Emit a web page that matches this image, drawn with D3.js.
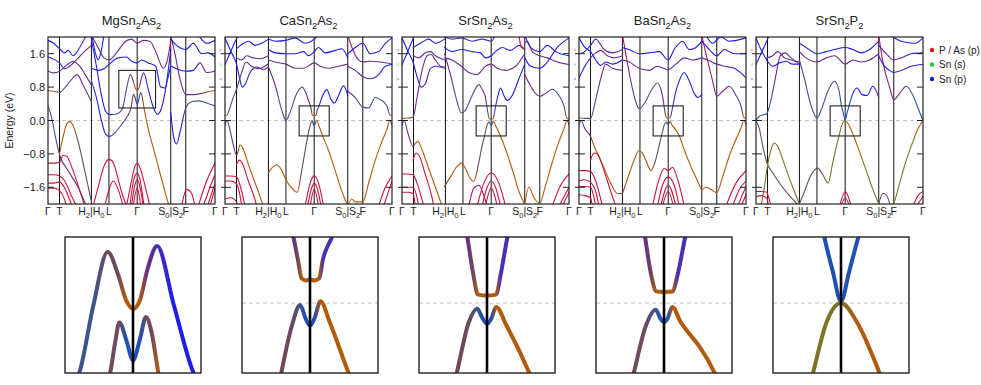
<!DOCTYPE html>
<html>
<head>
  <meta charset="utf-8">
  <title>Band structures</title>
  <script src="https://cdn.jsdelivr.net/npm/d3@7"></script>
  <style>
    body { margin: 0; background: #fff; }
    text { font-family: "Liberation Sans", Arial, sans-serif; fill: #222; }
  </style>
</head>
<body>
  <svg id="chart" width="981" height="385"></svg>

  <script>
    // --- data ---------------------------------------------------------
    var titles = ['MgSn_2As_2', 'CaSn_2As_2', 'SrSn_2As_2', 'BaSn_2As_2', 'SrSn_2P_2'];

    // k path positions (fraction of path) and their labels
    var kTicks = [0, 0.069, 0.26, 0.365, 0.534, 0.735, 0.825, 1];
    var kLabels = ['Γ', 'T', 'H_2|H_0', 'L', 'Γ', 'S_0|S_2', 'F', 'Γ'];
    var eTicks = [-1.6, -0.8, 0, 0.8, 1.6];

    // legend of projections
    var legendNames = ['P / As (p)', 'Sn (s)', 'Sn (p)'];

    // zoom windows around Γ: half width in k, energy range
    var zoomHalfK = [0.11, 0.09, 0.09, 0.09, 0.09];
    var zoomE = [[0.3, 1.2], [-0.37, 0.35], [-0.37, 0.35], [-0.37, 0.35], [-0.37, 0.35]];

    // band points: [k, energy (eV), character code]
    var bandsMg = [
      [[0,1.92,'b'],[0.035,1.85,'b'],[0.069,1.72,'b'],[0.1,1.62,'b'],[0.12,1.68,'b'],[0.15,1.55,'b'],[0.19,1.75,'v'],[0.23,2.05,'v']],
      [[0,1.52,'b'],[0.069,1.38,'b'],[0.1,1.24,'v'],[0.13,1.3,'v'],[0.17,1.45,'p'],[0.21,1.62,'p'],[0.26,1.8,'m']],
      [[0,1.18,'p'],[0.035,1.14,'p'],[0.069,1.18,'p'],[0.11,1.32,'p'],[0.15,1.42,'p'],[0.19,1.3,'p'],[0.23,1.05,'p'],[0.26,0.85,'p']],
      [[0,0.72,'o'],[0.035,0.7,'o'],[0.069,0.67,'n'],[0.1,0.78,'s'],[0.14,0.98,'p'],[0.175,1.1,'p'],[0.21,0.85,'p'],[0.26,0.45,'s']],
      [[0,0.35,'s'],[0.02,0.1,'s'],[0.045,-0.4,'s'],[0.069,-0.82,'p'],[0.12,-1.2,'p'],[0.18,-1.6,'p'],[0.23,-2.05,'p']],
      [[0.069,-0.8,'o'],[0.09,-0.4,'o'],[0.11,-0.1,'o'],[0.13,-0.02,'o'],[0.15,-0.12,'o'],[0.18,-0.5,'n'],[0.22,-1.2,'n'],[0.26,-1.95,'n']],
      [[0,-1.02,'r'],[0.035,-1.02,'r'],[0.069,-1.0,'r'],[0.09,-0.84,'r'],[0.11,-0.85,'r'],[0.15,-1.2,'r'],[0.2,-1.8,'r'],[0.22,-2.05,'r']],
      [[0,-1.3,'r'],[0.035,-1.3,'r'],[0.069,-1.33,'r'],[0.1,-1.45,'r'],[0.14,-1.8,'r'],[0.17,-2.05,'r']],
      [[0,-1.5,'r'],[0.035,-1.5,'r'],[0.069,-1.47,'r'],[0.1,-1.62,'r'],[0.13,-1.9,'r'],[0.145,-2.05,'r']],
      [[0,-1.62,'r'],[0.04,-1.62,'r'],[0.069,-1.68,'r'],[0.1,-1.9,'r'],[0.11,-2.05,'r']],
      [[0.26,1.95,'b'],[0.29,1.3,'b'],[0.32,0.6,'b'],[0.345,0.22,'b'],[0.367,0.14,'b'],[0.405,0.15,'s'],[0.43,0.2,'s'],[0.447,0.3,'s'],[0.47,0.75,'s'],[0.493,1.1,'n'],[0.51,0.95,'n'],[0.523,0.78,'o'],[0.534,0.724,'o'],[0.545,0.78,'o'],[0.557,0.98,'p'],[0.573,1.14,'v'],[0.6,0.75,'b'],[0.632,0.3,'b'],[0.655,0.15,'b'],[0.68,0.3,'b'],[0.71,0.9,'b'],[0.735,1.7,'b']],
      [[0.26,0.95,'s'],[0.29,0.55,'b'],[0.32,0.0,'b'],[0.345,-0.33,'b'],[0.37,-0.38,'b'],[0.4,-0.3,'s'],[0.44,-0.1,'s'],[0.475,0.1,'n'],[0.497,0.3,'n'],[0.505,0.5,'n'],[0.512,0.635,'n'],[0.523,0.52,'c'],[0.534,0.384,'c'],[0.545,0.52,'c'],[0.555,0.67,'n'],[0.565,0.55,'n'],[0.575,0.3,'o'],[0.6,-0.2,'o'],[0.63,-0.65,'o'],[0.67,-1.25,'o'],[0.7,-1.7,'o'],[0.725,-2.05,'o']],
      [[0.26,2.05,'m'],[0.3,1.75,'p'],[0.335,1.5,'p'],[0.367,1.45,'p'],[0.41,1.62,'p'],[0.46,1.88,'p'],[0.5,1.95,'p'],[0.534,1.85,'p'],[0.57,1.92,'p'],[0.61,1.9,'p'],[0.65,1.6,'p'],[0.69,1.25,'p'],[0.715,1.45,'m'],[0.735,1.9,'m']],
      [[0.26,1.25,'b'],[0.3,1.2,'b'],[0.34,1.25,'b'],[0.367,1.35,'b'],[0.42,1.5,'b'],[0.47,1.52,'b'],[0.5,1.42,'b'],[0.534,1.38,'b'],[0.56,1.45,'b'],[0.6,1.38,'b'],[0.645,1.3,'b'],[0.675,0.8,'b'],[0.7,0.78,'b'],[0.72,1.05,'b'],[0.735,1.3,'b']],
      [[0.265,2.0,'b'],[0.285,1.6,'b'],[0.3,1.45,'b'],[0.315,1.6,'b'],[0.335,2.05,'b']],
      [[0.27,-2.05,'r'],[0.3,-1.6,'r'],[0.34,-1.05,'r'],[0.365,-0.93,'r'],[0.385,-0.97,'r'],[0.41,-1.25,'r'],[0.44,-1.7,'r'],[0.47,-2.05,'r']],
      [[0.34,-2.05,'r'],[0.37,-1.6,'r'],[0.39,-1.45,'r'],[0.42,-1.65,'r'],[0.45,-2.05,'r']],
      [[0.47,-2.05,'r'],[0.5,-1.45,'r'],[0.52,-1.1,'r'],[0.534,-1.02,'r'],[0.55,-1.12,'r'],[0.58,-1.55,'r'],[0.61,-2.05,'r']],
      [[0.49,-2.05,'r'],[0.515,-1.4,'r'],[0.534,-1.26,'r'],[0.55,-1.4,'r'],[0.575,-2.05,'r']],
      [[0.5,-2.05,'r'],[0.52,-1.55,'r'],[0.534,-1.42,'r'],[0.548,-1.55,'r'],[0.57,-2.05,'r']],
      [[0.51,-2.05,'r'],[0.534,-1.62,'r'],[0.555,-2.05,'r']],
      [[0.735,0.2,'b'],[0.755,-0.45,'b'],[0.77,-0.56,'b'],[0.795,-0.2,'b'],[0.825,0.3,'s'],[0.86,0.45,'s'],[0.9,0.47,'s'],[0.95,0.42,'s'],[1,0.35,'s']],
      [[0.735,2.05,'m'],[0.76,1.6,'p'],[0.79,1.0,'p'],[0.825,0.62,'p'],[0.87,0.62,'p'],[0.93,0.66,'n'],[0.97,0.7,'o'],[1,0.72,'o']],
      [[0.74,1.3,'b'],[0.78,1.22,'b'],[0.825,1.18,'b'],[0.87,1.2,'b'],[0.91,1.38,'p'],[0.95,1.15,'p'],[1,1.18,'p']],
      [[0.735,1.95,'b'],[0.77,1.8,'b'],[0.825,1.7,'b'],[0.87,1.85,'b'],[0.92,1.6,'b'],[0.96,1.62,'b'],[1,1.52,'b']],
      [[0.9,2.05,'b'],[0.95,1.85,'b'],[1,1.92,'b']],
      [[0.8,-2.05,'r'],[0.83,-1.65,'r'],[0.86,-1.75,'r'],[0.88,-2.05,'r']],
      [[0.9,-2.05,'r'],[0.95,-1.45,'r'],[1,-1.02,'r']],
      [[0.93,-2.05,'r'],[0.97,-1.6,'r'],[1,-1.3,'r']],
      [[0.955,-2.05,'r'],[1,-1.5,'r']],
      [[0.97,-2.05,'r'],[1,-1.62,'r']]
    ];

    var bandsCa = [
      [[0,1.98,'b'],[0.035,1.66,'b'],[0.069,1.35,'b'],[0.088,1.0,'b'],[0.103,0.8,'b'],[0.12,0.86,'b'],[0.15,1.15,'v'],[0.19,1.28,'v'],[0.23,1.22,'v'],[0.26,1.28,'v']],
      [[0,1.34,'b'],[0.035,1.66,'b'],[0.069,1.96,'b'],[0.08,2.05,'b']],
      [[0,0.125,'o'],[0.012,0.13,'o'],[0.025,0.25,'s'],[0.045,0.5,'s'],[0.069,0.75,'s'],[0.1,1.15,'p'],[0.125,1.4,'p'],[0.16,1.3,'p'],[0.2,1.24,'p'],[0.26,1.36,'p']],
      [[0.069,1.5,'p'],[0.1,1.45,'p'],[0.13,1.55,'p'],[0.17,1.5,'p'],[0.21,1.48,'p'],[0.26,1.55,'p']],
      [[0.069,1.72,'b'],[0.1,1.82,'b'],[0.14,1.9,'b'],[0.18,1.8,'b'],[0.22,1.85,'b'],[0.26,1.95,'b']],
      [[0,-0.12,'c'],[0.013,0.0,'s'],[0.025,-0.15,'s'],[0.045,-0.5,'p'],[0.069,-0.83,'p'],[0.078,-0.75,'n'],[0.09,-0.58,'o'],[0.105,-0.65,'o'],[0.14,-1.05,'o'],[0.19,-1.6,'o'],[0.23,-2.05,'o']],
      [[0.069,-1.05,'r'],[0.085,-0.95,'r'],[0.1,-1.0,'r'],[0.14,-1.45,'r'],[0.18,-1.9,'r'],[0.19,-2.05,'r']],
      [[0,-1.33,'r'],[0.035,-1.33,'r'],[0.069,-1.35,'r'],[0.09,-1.55,'r'],[0.12,-2.05,'r']],
      [[0,-1.45,'r'],[0.035,-1.45,'r'],[0.069,-1.52,'r'],[0.09,-1.8,'r'],[0.1,-2.05,'r']],
      [[0,-1.88,'r'],[0.035,-1.85,'r'],[0.069,-1.95,'r'],[0.08,-2.05,'r']],
      [[0.26,1.28,'p'],[0.3,0.85,'p'],[0.34,0.25,'s'],[0.365,0.0,'s'],[0.39,0.2,'s'],[0.43,0.65,'s'],[0.463,0.8,'n'],[0.485,0.65,'p'],[0.5,0.48,'p'],[0.512,0.35,'p'],[0.518,0.23,'n'],[0.523,0.13,'o'],[0.529,0.12,'o'],[0.534,0.125,'o'],[0.54,0.12,'o'],[0.546,0.13,'o'],[0.551,0.23,'v'],[0.563,0.35,'v'],[0.58,0.55,'b'],[0.61,0.74,'b'],[0.635,0.5,'b'],[0.655,0.42,'b'],[0.68,0.6,'b'],[0.71,0.83,'b'],[0.735,0.6,'b']],
      [[0.26,-1.25,'o'],[0.29,-1.1,'o'],[0.31,-1.06,'o'],[0.34,-1.2,'o'],[0.365,-1.42,'o'],[0.4,-1.62,'o'],[0.433,-1.72,'o'],[0.455,-1.3,'n'],[0.48,-0.72,'n'],[0.496,-0.37,'n'],[0.51,-0.12,'n'],[0.521,-0.01,'s'],[0.528,-0.08,'c'],[0.534,-0.12,'c'],[0.54,-0.08,'c'],[0.548,0.01,'o'],[0.56,-0.1,'o'],[0.585,-0.37,'o'],[0.62,-0.72,'o'],[0.66,-1.2,'o'],[0.7,-1.7,'o'],[0.735,-2.05,'o']],
      [[0.26,1.45,'p'],[0.3,1.4,'p'],[0.365,1.35,'p'],[0.42,1.25,'p'],[0.47,1.25,'p'],[0.534,1.38,'p'],[0.57,1.3,'p'],[0.62,1.25,'p'],[0.68,1.3,'p'],[0.735,1.35,'p']],
      [[0.26,1.7,'b'],[0.3,1.62,'b'],[0.365,1.6,'b'],[0.42,1.6,'b'],[0.47,1.65,'b'],[0.5,1.55,'b'],[0.534,1.65,'b'],[0.56,1.75,'b'],[0.6,1.62,'b'],[0.66,1.68,'b'],[0.7,1.72,'b'],[0.735,1.5,'b']],
      [[0.26,1.95,'b'],[0.3,1.9,'b'],[0.365,1.92,'b'],[0.42,1.98,'b'],[0.48,1.85,'b'],[0.534,1.95,'b'],[0.56,2.05,'b']],
      [[0.48,-2.05,'r'],[0.51,-1.5,'r'],[0.534,-1.32,'r'],[0.56,-1.5,'r'],[0.59,-2.05,'r']],
      [[0.495,-2.05,'r'],[0.52,-1.6,'r'],[0.534,-1.5,'r'],[0.55,-1.6,'r'],[0.575,-2.05,'r']],
      [[0.51,-2.05,'r'],[0.534,-1.65,'r'],[0.56,-2.05,'r']],
      [[0.735,-2.05,'o'],[0.76,-1.88,'o'],[0.78,-1.95,'o'],[0.825,-1.95,'o'],[0.86,-1.5,'o'],[0.9,-0.95,'o'],[0.94,-0.5,'o'],[0.97,-0.2,'o'],[0.987,0.0,'o'],[1,-0.12,'c']],
      [[0.735,0.7,'p'],[0.78,0.55,'p'],[0.825,0.32,'s'],[0.86,0.3,'s'],[0.9,0.55,'s'],[0.93,0.5,'s'],[0.97,0.35,'v'],[0.988,0.13,'o'],[1,0.125,'o']],
      [[0.735,2.05,'m'],[0.76,1.75,'m'],[0.8,1.45,'p'],[0.825,1.4,'p'],[0.87,1.42,'p'],[0.93,1.4,'p'],[1,1.35,'p']],
      [[0.735,1.3,'p'],[0.78,1.2,'p'],[0.825,1.05,'p'],[0.87,1.0,'v'],[0.92,1.1,'b'],[0.96,1.3,'b'],[1,1.34,'b']],
      [[0.735,1.6,'b'],[0.78,1.75,'b'],[0.825,1.85,'b'],[0.87,1.6,'b'],[0.92,1.65,'b'],[0.96,1.85,'b'],[1,1.98,'b']],
      [[0.92,-2.05,'r'],[0.96,-1.6,'r'],[1,-1.33,'r']],
      [[0.95,-2.05,'r'],[1,-1.45,'r']]
    ];

    var bandsSr = [
      [[0,1.98,'b'],[0.035,1.66,'b'],[0.066,1.4,'b'],[0.09,1.05,'b'],[0.115,0.8,'b'],[0.14,0.88,'v'],[0.17,1.25,'v'],[0.2,1.3,'v'],[0.255,1.25,'v']],
      [[0,1.34,'b'],[0.035,1.66,'b'],[0.066,1.96,'b'],[0.075,2.05,'b']],
      [[0,0.045,'o'],[0.035,0.06,'o'],[0.066,0.08,'n'],[0.09,0.55,'p'],[0.12,1.2,'p'],[0.15,1.55,'p'],[0.175,1.58,'p'],[0.2,1.45,'p'],[0.23,1.3,'p'],[0.255,1.28,'p']],
      [[0.066,1.55,'p'],[0.1,1.5,'p'],[0.14,1.62,'p'],[0.17,1.65,'p'],[0.2,1.55,'p'],[0.255,1.45,'p']],
      [[0.066,1.75,'b'],[0.11,1.85,'b'],[0.16,1.95,'b'],[0.2,1.85,'b'],[0.255,1.95,'b']],
      [[0,-0.11,'c'],[0.013,0.0,'s'],[0.035,-0.3,'p'],[0.066,-0.62,'p'],[0.08,-0.55,'o'],[0.095,-0.5,'o'],[0.12,-0.7,'o'],[0.16,-1.15,'o'],[0.2,-1.6,'o'],[0.24,-2.05,'o']],
      [[0.066,-0.95,'r'],[0.085,-0.78,'r'],[0.1,-0.82,'r'],[0.14,-1.3,'r'],[0.18,-1.85,'r'],[0.19,-2.05,'r']],
      [[0,-1.28,'r'],[0.035,-1.28,'r'],[0.066,-1.3,'r'],[0.09,-1.5,'r'],[0.13,-2.05,'r']],
      [[0,-1.6,'r'],[0.035,-1.6,'r'],[0.066,-1.6,'r'],[0.09,-1.85,'r'],[0.1,-2.05,'r']],
      [[0,-1.72,'r'],[0.035,-1.72,'r'],[0.066,-1.75,'r'],[0.08,-2.05,'r']],
      [[0.255,1.6,'p'],[0.29,1.1,'p'],[0.33,0.45,'s'],[0.355,0.18,'s'],[0.38,0.25,'s'],[0.42,0.6,'s'],[0.46,0.86,'n'],[0.485,0.7,'p'],[0.5,0.55,'p'],[0.508,0.35,'p'],[0.516,0.15,'n'],[0.522,0.045,'o'],[0.534,0.04,'o'],[0.546,0.045,'o'],[0.552,0.15,'v'],[0.561,0.35,'v'],[0.575,0.6,'b'],[0.59,0.78,'b'],[0.61,0.6,'b'],[0.63,0.48,'b'],[0.66,0.6,'b'],[0.7,1.0,'b'],[0.735,1.35,'b']],
      [[0.255,-1.58,'n'],[0.29,-1.35,'o'],[0.33,-1.1,'o'],[0.355,-1.02,'o'],[0.38,-1.15,'o'],[0.41,-1.4,'o'],[0.43,-1.46,'o'],[0.455,-1.1,'n'],[0.48,-0.6,'n'],[0.494,-0.37,'n'],[0.51,-0.1,'n'],[0.521,-0.03,'s'],[0.528,-0.08,'c'],[0.534,-0.11,'c'],[0.54,-0.08,'c'],[0.546,-0.02,'o'],[0.56,-0.12,'o'],[0.59,-0.37,'o'],[0.63,-0.8,'o'],[0.67,-1.3,'o'],[0.7,-1.7,'o'],[0.735,-2.0,'o']],
      [[0.255,1.5,'p'],[0.3,1.45,'p'],[0.355,1.3,'p'],[0.4,1.15,'p'],[0.45,1.1,'p'],[0.5,1.3,'p'],[0.534,1.35,'p'],[0.57,1.25,'p'],[0.62,1.2,'p'],[0.68,1.3,'p'],[0.735,1.6,'p']],
      [[0.255,1.75,'b'],[0.3,1.65,'b'],[0.355,1.7,'b'],[0.42,1.65,'b'],[0.47,1.62,'b'],[0.5,1.5,'b'],[0.534,1.55,'b'],[0.56,1.65,'b'],[0.6,1.75,'b'],[0.65,1.68,'b'],[0.7,1.8,'b'],[0.735,1.7,'b']],
      [[0.255,2.0,'v'],[0.3,1.95,'v'],[0.355,1.98,'v'],[0.42,1.9,'v'],[0.48,1.95,'v'],[0.534,1.9,'v'],[0.56,2.05,'v']],
      [[0.45,-2.05,'r'],[0.49,-1.5,'r'],[0.534,-1.25,'r'],[0.58,-1.5,'r'],[0.62,-2.05,'r']],
      [[0.48,-2.05,'r'],[0.51,-1.6,'r'],[0.534,-1.45,'r'],[0.56,-1.6,'r'],[0.59,-2.05,'r']],
      [[0.5,-2.05,'r'],[0.534,-1.62,'r'],[0.57,-2.05,'r']],
      [[0.4,-2.05,'m'],[0.43,-1.62,'m'],[0.46,-1.55,'m'],[0.49,-1.8,'m'],[0.51,-2.05,'m']],
      [[0.7,2.05,'r'],[0.715,1.75,'r'],[0.735,1.7,'r']],
      [[0.735,-2.0,'o'],[0.76,-1.6,'o'],[0.79,-1.85,'o'],[0.825,-1.98,'g'],[0.86,-1.55,'o'],[0.9,-1.0,'o'],[0.94,-0.5,'o'],[0.97,-0.2,'o'],[0.987,0.0,'o'],[1,-0.11,'c']],
      [[0.735,1.1,'m'],[0.76,0.9,'p'],[0.8,0.65,'p'],[0.825,0.58,'p'],[0.86,0.65,'p'],[0.9,0.75,'s'],[0.94,0.6,'s'],[0.97,0.35,'s'],[0.988,0.05,'o'],[1,0.045,'o']],
      [[0.735,1.85,'r'],[0.75,1.9,'m'],[0.78,1.65,'m'],[0.825,1.55,'p'],[0.87,1.5,'p'],[0.93,1.4,'p'],[1,1.34,'p']],
      [[0.735,1.5,'b'],[0.77,1.3,'b'],[0.825,1.25,'b'],[0.87,1.4,'b'],[0.93,1.75,'b'],[1,1.98,'b']],
      [[0.735,2.05,'b'],[0.77,1.75,'b'],[0.825,1.65,'b'],[0.87,1.8,'b'],[0.92,1.65,'b'],[1,1.55,'b']],
      [[0.9,-2.05,'r'],[0.95,-1.55,'r'],[1,-1.28,'r']],
      [[0.94,-2.05,'r'],[1,-1.6,'r']],
      [[0.96,-2.05,'r'],[1,-1.72,'r']]
    ];

    var bandsBa = [
      [[0,1.98,'b'],[0.035,1.75,'b'],[0.069,1.65,'b'],[0.1,1.45,'b'],[0.13,1.32,'b'],[0.16,1.4,'b'],[0.2,1.35,'b'],[0.26,1.45,'b']],
      [[0,1.02,'b'],[0.035,1.3,'b'],[0.069,1.5,'v'],[0.1,1.62,'p'],[0.13,1.68,'p'],[0.17,1.55,'p'],[0.21,1.5,'p'],[0.26,1.55,'p']],
      [[0,1.6,'b'],[0.035,1.65,'b'],[0.069,1.8,'b'],[0.1,1.95,'p'],[0.15,1.7,'p'],[0.2,1.62,'p'],[0.26,1.7,'p']],
      [[0,0.06,'o'],[0.013,0.06,'o'],[0.035,0.05,'s'],[0.069,0.05,'s'],[0.1,0.5,'s'],[0.13,1.0,'p'],[0.16,1.35,'p'],[0.2,1.25,'p'],[0.26,1.2,'p']],
      [[0,-0.1,'c'],[0.013,0.0,'s'],[0.035,-0.2,'p'],[0.069,-0.38,'p'],[0.085,-0.55,'o'],[0.1,-0.7,'o'],[0.14,-1.05,'o'],[0.19,-1.5,'o'],[0.23,-1.75,'o'],[0.26,-1.75,'n']],
      [[0.069,-0.95,'r'],[0.09,-0.78,'r'],[0.11,-0.8,'r'],[0.15,-1.2,'r'],[0.19,-1.7,'r'],[0.22,-2.05,'r']],
      [[0,-1.2,'r'],[0.035,-1.2,'r'],[0.069,-1.22,'r'],[0.1,-1.45,'r'],[0.14,-2.05,'r']],
      [[0,-1.45,'r'],[0.035,-1.42,'r'],[0.069,-1.48,'r'],[0.1,-1.7,'r'],[0.12,-2.05,'r']],
      [[0,-1.58,'r'],[0.035,-1.58,'r'],[0.069,-1.6,'r'],[0.09,-1.85,'r'],[0.1,-2.05,'r']],
      [[0,-1.78,'r'],[0.035,-1.8,'r'],[0.069,-1.85,'r'],[0.08,-2.05,'r']],
      [[0.26,2.05,'m'],[0.28,1.6,'m'],[0.31,0.95,'p'],[0.34,0.45,'s'],[0.36,0.28,'s'],[0.39,0.4,'s'],[0.43,0.7,'s'],[0.47,0.9,'n'],[0.49,0.75,'p'],[0.502,0.55,'p'],[0.509,0.35,'p'],[0.517,0.15,'n'],[0.524,0.062,'o'],[0.53,0.06,'o'],[0.534,0.058,'o'],[0.538,0.06,'o'],[0.545,0.062,'o'],[0.552,0.15,'v'],[0.562,0.35,'v'],[0.58,0.7,'b'],[0.6,0.95,'b'],[0.63,1.15,'b'],[0.66,0.95,'b'],[0.69,0.65,'b'],[0.712,0.55,'b'],[0.735,0.62,'b']],
      [[0.26,-1.75,'n'],[0.29,-1.4,'o'],[0.33,-0.95,'o'],[0.36,-0.72,'o'],[0.38,-0.78,'o'],[0.41,-1.05,'o'],[0.43,-1.2,'o'],[0.455,-1.0,'n'],[0.48,-0.6,'n'],[0.494,-0.37,'n'],[0.51,-0.12,'n'],[0.523,-0.035,'s'],[0.529,-0.08,'c'],[0.534,-0.1,'c'],[0.539,-0.08,'c'],[0.545,-0.02,'o'],[0.556,-0.1,'o'],[0.567,-0.16,'o'],[0.581,-0.23,'o'],[0.601,-0.37,'o'],[0.63,-0.7,'o'],[0.67,-1.1,'o'],[0.71,-1.45,'o'],[0.735,-1.68,'o']],
      [[0.26,1.45,'p'],[0.3,1.4,'p'],[0.36,1.25,'p'],[0.42,1.2,'p'],[0.47,1.3,'p'],[0.534,1.22,'p'],[0.58,1.35,'p'],[0.63,1.5,'p'],[0.68,1.45,'p'],[0.735,1.5,'p']],
      [[0.26,1.75,'b'],[0.3,1.7,'b'],[0.36,1.6,'b'],[0.42,1.62,'b'],[0.48,1.65,'b'],[0.534,1.45,'b'],[0.57,1.7,'b'],[0.62,1.9,'b'],[0.66,1.7,'b'],[0.7,1.75,'b'],[0.735,1.9,'b']],
      [[0.44,-2.05,'r'],[0.48,-1.4,'r'],[0.51,-1.15,'r'],[0.534,-1.2,'r'],[0.56,-1.12,'r'],[0.59,-1.4,'r'],[0.63,-2.05,'r']],
      [[0.47,-2.05,'r'],[0.5,-1.55,'r'],[0.534,-1.35,'r'],[0.57,-1.55,'r'],[0.6,-2.05,'r']],
      [[0.49,-2.05,'r'],[0.534,-1.55,'r'],[0.58,-2.05,'r']],
      [[0.5,-2.05,'r'],[0.534,-1.7,'r'],[0.565,-2.05,'r']],
      [[0.735,-1.68,'o'],[0.76,-1.6,'o'],[0.79,-1.65,'o'],[0.825,-1.73,'o'],[0.86,-1.35,'o'],[0.9,-0.85,'o'],[0.94,-0.45,'o'],[0.97,-0.18,'o'],[0.987,0.0,'o'],[1,-0.1,'c']],
      [[0.735,2.05,'r'],[0.76,1.6,'m'],[0.8,0.95,'m'],[0.825,0.58,'p'],[0.86,0.7,'p'],[0.9,0.82,'p'],[0.94,0.6,'s'],[0.97,0.35,'v'],[0.988,0.065,'o'],[1,0.06,'o']],
      [[0.735,1.5,'p'],[0.77,1.45,'p'],[0.825,1.35,'p'],[0.87,1.3,'p'],[0.93,1.25,'b'],[1,1.02,'b']],
      [[0.735,1.9,'b'],[0.78,1.7,'b'],[0.825,1.55,'b'],[0.87,1.7,'b'],[0.93,1.6,'b'],[1,1.6,'b']],
      [[0.76,2.05,'b'],[0.8,1.85,'b'],[0.85,2.0,'b'],[0.9,1.9,'b'],[1,1.98,'b']],
      [[0.88,-2.05,'r'],[0.94,-1.5,'r'],[1,-1.2,'r']],
      [[0.92,-2.05,'r'],[0.96,-1.65,'r'],[1,-1.45,'r']],
      [[0.95,-2.05,'r'],[1,-1.58,'r']],
      [[0.97,-2.05,'r'],[1,-1.78,'r']]
    ];

    var bandsSrP = [
      [[0,1.98,'b'],[0.03,1.7,'b'],[0.064,1.45,'b'],[0.1,1.3,'b'],[0.14,1.38,'b'],[0.18,1.42,'b'],[0.22,1.35,'b'],[0.26,1.35,'b']],
      [[0,1.34,'b'],[0.03,1.6,'b'],[0.064,1.9,'b'],[0.08,2.05,'b']],
      [[0.064,1.5,'p'],[0.1,1.55,'p'],[0.13,1.65,'p'],[0.17,1.5,'p'],[0.21,1.45,'p'],[0.26,1.4,'p']],
      [[0,0.0,'c'],[0.02,0.1,'s'],[0.064,0.16,'s'],[0.09,0.5,'s'],[0.12,1.1,'p'],[0.145,1.55,'p'],[0.175,1.62,'p'],[0.21,1.5,'p'],[0.26,1.35,'p']],
      [[0,0.0,'g'],[0.02,-0.2,'n'],[0.045,-0.7,'n'],[0.064,-1.0,'n'],[0.1,-1.25,'n'],[0.15,-1.55,'n'],[0.2,-1.8,'n'],[0.26,-2.05,'n']],
      [[0.03,-2.05,'g'],[0.05,-1.6,'g'],[0.064,-1.2,'g'],[0.09,-0.7,'g'],[0.11,-0.54,'g'],[0.13,-0.62,'g'],[0.17,-1.05,'g'],[0.22,-1.6,'g'],[0.26,-2.0,'g']],
      [[0,-1.7,'r'],[0.03,-1.7,'r'],[0.064,-1.72,'r'],[0.08,-1.9,'r'],[0.09,-2.05,'r']],
      [[0,-1.82,'r'],[0.03,-1.8,'r'],[0.064,-1.85,'r'],[0.075,-2.05,'r']],
      [[0.26,1.45,'p'],[0.29,1.0,'s'],[0.33,0.35,'s'],[0.365,0.06,'s'],[0.39,0.25,'s'],[0.43,0.7,'s'],[0.47,0.94,'s'],[0.495,0.75,'s'],[0.512,0.35,'c'],[0.523,0.17,'c'],[0.534,0.01,'c'],[0.545,0.17,'c'],[0.557,0.35,'c'],[0.58,0.65,'b'],[0.605,0.78,'b'],[0.635,0.62,'b'],[0.665,0.6,'b'],[0.7,0.82,'b'],[0.735,0.55,'v']],
      [[0.26,-2.0,'n'],[0.29,-1.7,'n'],[0.33,-1.3,'n'],[0.37,-1.14,'n'],[0.4,-1.3,'n'],[0.432,-1.5,'g'],[0.46,-1.0,'g'],[0.497,-0.37,'g'],[0.515,-0.1,'g'],[0.534,0.0,'g'],[0.555,-0.1,'o'],[0.585,-0.37,'o'],[0.62,-0.75,'o'],[0.66,-1.2,'g'],[0.7,-1.65,'g'],[0.735,-2.0,'g']],
      [[0.26,1.65,'p'],[0.3,1.5,'p'],[0.365,1.4,'p'],[0.42,1.5,'p'],[0.47,1.55,'p'],[0.534,1.35,'p'],[0.58,1.45,'p'],[0.63,1.4,'p'],[0.68,1.45,'p'],[0.735,1.6,'p']],
      [[0.26,1.85,'b'],[0.3,1.75,'b'],[0.365,1.6,'b'],[0.42,1.65,'b'],[0.47,1.7,'b'],[0.534,1.75,'b'],[0.58,1.7,'b'],[0.63,1.62,'b'],[0.68,1.7,'b'],[0.735,1.9,'b']],
      [[0.5,-2.05,'r'],[0.52,-1.8,'r'],[0.534,-1.7,'r'],[0.55,-1.8,'r'],[0.57,-2.05,'r']],
      [[0.51,-2.05,'r'],[0.534,-1.85,'r'],[0.56,-2.05,'r']],
      [[0.735,-2.0,'n'],[0.76,-1.75,'n'],[0.78,-1.78,'n'],[0.805,-2.05,'n']],
      [[0.815,-2.05,'g'],[0.825,-1.98,'g'],[0.86,-1.5,'g'],[0.9,-0.95,'g'],[0.94,-0.5,'g'],[0.97,-0.2,'o'],[1,0.0,'o']],
      [[0.735,2.05,'r'],[0.76,1.4,'m'],[0.8,0.8,'m'],[0.825,0.5,'p'],[0.86,0.65,'p'],[0.9,0.82,'p'],[0.94,0.6,'s'],[0.97,0.3,'c'],[1,0.0,'c']],
      [[0.735,1.55,'b'],[0.76,1.35,'b'],[0.8,1.2,'b'],[0.825,1.15,'b'],[0.87,1.2,'p'],[0.93,1.3,'b'],[1,1.34,'b']],
      [[0.735,1.8,'b'],[0.78,1.6,'p'],[0.825,1.45,'p'],[0.87,1.5,'p'],[0.93,1.6,'b'],[1,1.62,'b']],
      [[0.8,2.05,'b'],[0.87,1.9,'b'],[0.95,1.85,'b'],[1,1.98,'b']],
      [[0.94,-2.05,'r'],[0.97,-1.8,'r'],[1,-1.7,'r']],
      [[0.96,-2.05,'r'],[1,-1.82,'r']]
    ];

    var panels = [bandsMg, bandsCa, bandsSr, bandsBa, bandsSrP];

    // colours of the orbital characters
    var palette = { r: '#c8143c', b: '#1e1ee6', p: '#6a2c8c', v: '#4b2fb4', m: '#a0186e',
                    o: '#b25a0c', s: '#3f548e', n: '#6e4a5c', g: '#7c7424', c: '#1f50b4' };
    var legendColors = ['#e0141e', '#22d022', '#1a1ae6'];

    // --- layout -------------------------------------------------------
    var panelW = 167, panelH = 167, panelTop = 37, left0 = 48, step = 177;
    var insetW = 136, insetTop = 237, insetLeft0 = 65;

    var svg = d3.select('#chart');
    var defs = svg.append('defs');

    var bandLine = function (x, y) {
      return d3.line()
        .x(function (d) { return x(d[0]); })
        .y(function (d) { return y(d[1]); })
        .curve(d3.curveMonotoneX);
    };

    // text with "_2" style subscripts
    function richText(sel, str, size) {
      var shifted = false;
      str.split(/(_\d)/).forEach(function (part) {
        if (!part) return;
        if (part[0] === '_') {
          sel.append('tspan').attr('dy', size * 0.3).attr('font-size', size * 0.72).text(part[1]);
          shifted = true;
        } else {
          sel.append('tspan').attr('dy', shifted ? -size * 0.3 : 0).text(part);
          shifted = false;
        }
      });
    }

    function drawBands(g, bands, x, y, width, id) {
      bands.forEach(function (band, j) {
        var gid = id + '-' + j;
        var x1 = x(band[0][0]), x2 = x(band[band.length - 1][0]);
        var grad = defs.append('linearGradient').attr('id', gid)
          .attr('gradientUnits', 'userSpaceOnUse')
          .attr('x1', x1).attr('x2', x2).attr('y1', 0).attr('y2', 0);
        band.forEach(function (d) {
          grad.append('stop')
            .attr('offset', (x(d[0]) - x1) / (x2 - x1))
            .attr('stop-color', palette[d[2]]);
        });
        g.append('path').datum(band)
          .attr('d', bandLine(x, y))
          .attr('fill', 'none')
          .attr('stroke', 'url(#' + gid + ')')
          .attr('stroke-width', width)
          .attr('stroke-linecap', 'round');
      });
    }

    var y = d3.scaleLinear().domain([-2, 2]).range([panelTop + panelH, panelTop]);

    // y axis title and tick labels (first panel only)
    svg.append('text')
      .attr('transform', 'translate(13,' + (panelTop + panelH / 2) + ') rotate(-90)')
      .attr('text-anchor', 'middle')
      .attr('font-size', 10.5)
      .text('Energy (eV)');

    svg.selectAll('.ylab').data(eTicks).enter().append('text')
      .attr('x', left0 - 3)
      .attr('y', function (d) { return y(d) + 4; })
      .attr('text-anchor', 'end')
      .attr('font-size', 11)
      .text(function (d) { return d3.format('.1f')(d); });

    panels.forEach(function (bands, i) {
      var x0 = left0 + i * step;
      var x = d3.scaleLinear().domain([0, 1]).range([x0, x0 + panelW]);
      var g = svg.append('g');

      // title
      richText(g.append('text')
        .attr('x', x0 + panelW / 2).attr('y', 25)
        .attr('text-anchor', 'middle').attr('font-size', 13), titles[i], 13);

      // zero line
      g.append('line')
        .attr('x1', x0).attr('x2', x0 + panelW)
        .attr('y1', y(0)).attr('y2', y(0))
        .attr('stroke', '#c4c4c4').attr('stroke-dasharray', '4,3');

      // high-symmetry lines
      g.selectAll('.kline').data(kTicks.slice(1, -1)).enter().append('line')
        .attr('x1', function (d) { return x(d); }).attr('x2', function (d) { return x(d); })
        .attr('y1', panelTop).attr('y2', panelTop + panelH)
        .attr('stroke', '#111').attr('stroke-width', 1);

      // bands, clipped to the frame
      defs.append('clipPath').attr('id', 'clip' + i)
        .append('rect').attr('x', x0).attr('y', panelTop).attr('width', panelW).attr('height', panelH);
      drawBands(g.append('g').attr('clip-path', 'url(#clip' + i + ')'), bands, x, y, 1.1, 'bt' + i);

      // frame and ticks
      g.append('rect')
        .attr('x', x0).attr('y', panelTop).attr('width', panelW).attr('height', panelH)
        .attr('fill', 'none').attr('stroke', '#222').attr('stroke-width', 1.2);
      g.selectAll('.lt').data(eTicks).enter().append('line')
        .attr('x1', i === 0 ? x0 : x0 - 4).attr('x2', x0 + 6)
        .attr('y1', function (d) { return y(d); }).attr('y2', function (d) { return y(d); })
        .attr('stroke', '#222');
      g.selectAll('.rt').data(eTicks).enter().append('line')
        .attr('x1', x0 + panelW - 6).attr('x2', x0 + panelW)
        .attr('y1', function (d) { return y(d); }).attr('y2', function (d) { return y(d); })
        .attr('stroke', '#222');

      // k labels
      kTicks.forEach(function (k, j) {
        richText(g.append('text')
          .attr('x', x(k)).attr('y', 215)
          .attr('text-anchor', 'middle').attr('font-size', 10.5), kLabels[j], 10.5);
      });

      // zoom box around Γ
      var gk = kTicks[4], hk = zoomHalfK[i], ze = zoomE[i];
      g.append('rect')
        .attr('x', x(gk - hk)).attr('y', y(ze[1]))
        .attr('width', x(gk + hk) - x(gk - hk)).attr('height', y(ze[0]) - y(ze[1]))
        .attr('fill', 'none').attr('stroke', '#222').attr('stroke-width', 1.1);

      // faint legend marks left of the frame
      if (i > 0) {
        legendColors.forEach(function (c, j) {
          g.append('circle').attr('cx', x0 - 4).attr('cy', 50 + j * 14.5).attr('r', 1.3)
            .attr('fill', c).attr('opacity', 0.3);
        });
      }

      // inset
      var ix = insetLeft0 + i * step;
      var xi = d3.scaleLinear().domain([gk - hk, gk + hk]).range([ix, ix + insetW]);
      var yi = d3.scaleLinear().domain(ze).range([insetTop + insetW, insetTop]);
      var gi = svg.append('g');
      if (ze[0] < 0 && ze[1] > 0) {
        gi.append('line')
          .attr('x1', ix).attr('x2', ix + insetW).attr('y1', yi(0)).attr('y2', yi(0))
          .attr('stroke', '#c4c4c4').attr('stroke-dasharray', '4,3');
      }
      defs.append('clipPath').attr('id', 'iclip' + i)
        .append('rect').attr('x', ix).attr('y', insetTop).attr('width', insetW).attr('height', insetW);
      drawBands(gi.append('g').attr('clip-path', 'url(#iclip' + i + ')'), bands, xi, yi, 4, 'bi' + i);
      gi.append('line')
        .attr('x1', xi(gk)).attr('x2', xi(gk)).attr('y1', insetTop).attr('y2', insetTop + insetW)
        .attr('stroke', '#000').attr('stroke-width', 2.6);
      gi.append('rect')
        .attr('x', ix).attr('y', insetTop).attr('width', insetW).attr('height', insetW)
        .attr('fill', 'none').attr('stroke', '#222').attr('stroke-width', 1.4);
    });

    // legend
    var legend = svg.append('g');
    legendNames.forEach(function (name, j) {
      legend.append('circle').attr('cx', 932).attr('cy', 50 + j * 14.5).attr('r', 2.2)
        .attr('fill', legendColors[j]);
      legend.append('text').attr('x', 939).attr('y', 53.5 + j * 14.5)
        .attr('font-size', 10).text(name);
    });
  </script>
</body>
</html>
